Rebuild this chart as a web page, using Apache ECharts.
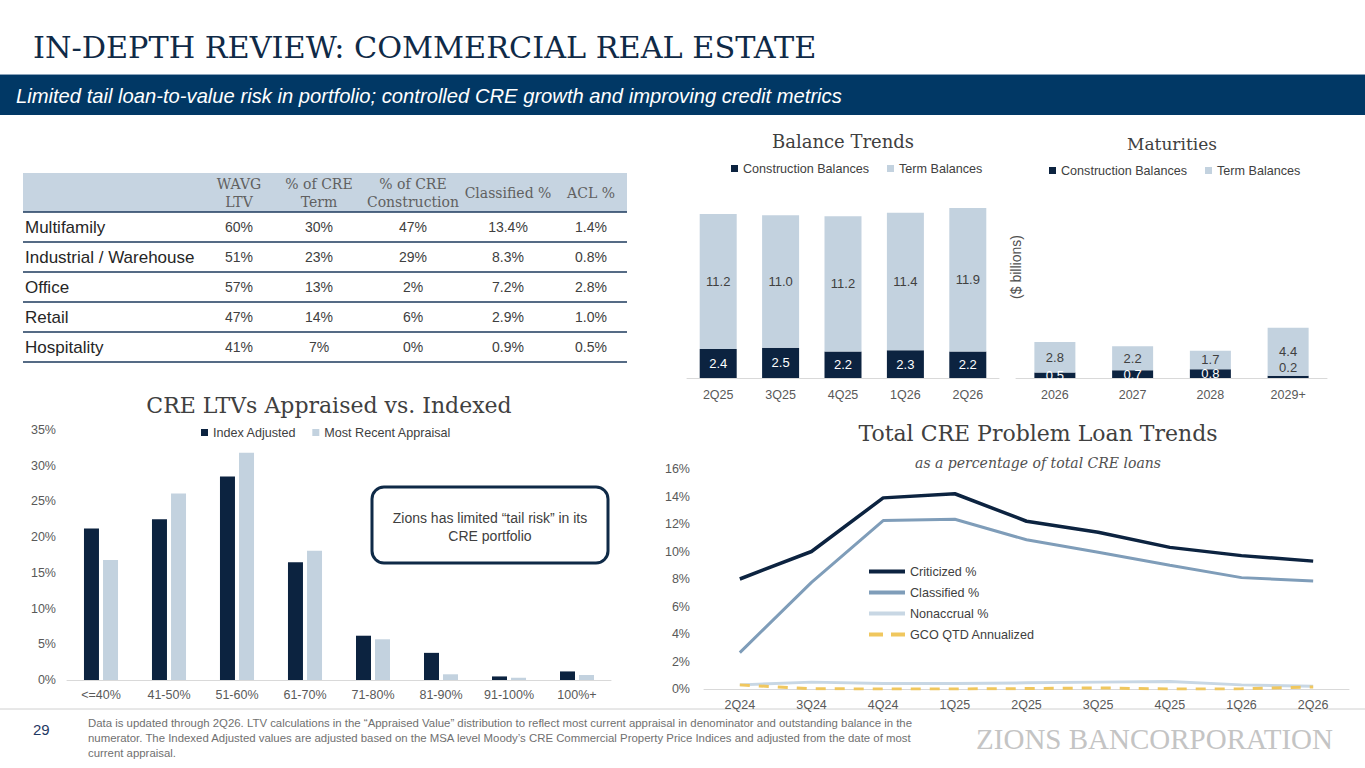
<!DOCTYPE html>
<html>
<head>
<meta charset="utf-8">
<script src="https://cdn.jsdelivr.net/npm/echarts@6/dist/echarts.min.js"></script>
<style>
html, body { margin: 0; padding: 0; background: #fff; }
#main { width: 1365px; height: 768px; }
</style>
</head>
<body>
<div id="main"></div>
<script>
var navy = '#0c2340';
var pale = '#c3d2df';

// table
var tableRows = ['Multifamily', 'Industrial / Warehouse', 'Office', 'Retail', 'Hospitality'];
var tableHeads = [['WAVG', 'LTV'], ['% of CRE', 'Term'], ['% of CRE', 'Construction'], ['Classified %'], ['ACL %']];
var wavgLtv = ['60%', '51%', '57%', '47%', '41%'];
var creTerm = ['30%', '23%', '13%', '14%', '7%'];
var creConstruction = ['47%', '29%', '2%', '6%', '0%'];
var classifiedPct = ['13.4%', '8.3%', '7.2%', '2.9%', '0.9%'];
var aclPct = ['1.4%', '0.8%', '2.8%', '1.0%', '0.5%'];

// balance trends ($ billions)
var balanceQuarters = ['2Q25', '3Q25', '4Q25', '1Q26', '2Q26'];
var balanceConstruction = [2.4, 2.5, 2.2, 2.3, 2.2];
var balanceTerm = [11.2, 11.0, 11.2, 11.4, 11.9];

// maturities ($ billions)
var maturityYears = ['2026', '2027', '2028', '2029+'];
var maturityConstruction = [0.5, 0.7, 0.8, 0.2];
var maturityTerm = [2.8, 2.2, 1.7, 4.4];

// CRE LTVs (%)
var ltvBuckets = ['<=40%', '41-50%', '51-60%', '61-70%', '71-80%', '81-90%', '91-100%', '100%+'];
var indexAdjusted = [21.2, 22.5, 28.5, 16.5, 6.2, 3.8, 0.5, 1.2];
var mostRecentAppraisal = [16.8, 26.1, 31.8, 18.1, 5.7, 0.8, 0.3, 0.7];

// problem loans (% of total CRE loans)
var problemQuarters = ['2Q24', '3Q24', '4Q24', '1Q25', '2Q25', '3Q25', '4Q25', '1Q26', '2Q26'];
var criticized = [8.0, 10.0, 13.9, 14.2, 12.2, 11.4, 10.3, 9.7, 9.3];
var classified = [2.65, 7.75, 12.25, 12.35, 10.85, 9.95, 9.0, 8.1, 7.85];
var nonaccrual = [0.3, 0.5, 0.4, 0.4, 0.45, 0.5, 0.55, 0.3, 0.2];
var gcoAnnualized = [0.3, 0.02, 0, 0, 0.03, 0.08, 0, 0.01, 0.15];

var footnote = [
    'Data is updated through 2Q26. LTV calculations in the \u201cAppraised Value\u201d distribution to reflect most current appraisal in denominator and outstanding balance in the',
    'numerator. The Indexed Adjusted values are adjusted based on the MSA level Moody\u2019s CRE Commercial Property Price Indices and adjusted from the date of most',
    'current appraisal.'
];

var sans = '"Liberation Sans", Arial, sans-serif';
var serif = '"DejaVu Serif", Georgia, serif';

function txt(text, x, y, font, fill, align, valign) {
    return {
        type: 'text',
        style: {
            text: text, x: x, y: y, font: font, fill: fill,
            textAlign: align || 'left', textVerticalAlign: valign || 'middle'
        }
    };
}

function hline(x1, x2, y, color, w) {
    return {
        type: 'line',
        shape: { x1: x1, y1: y, x2: x2, y2: y },
        style: { stroke: color, lineWidth: w }
    };
}

// page furniture
var graphics = [
    txt('IN-DEPTH REVIEW: COMMERCIAL REAL ESTATE', 33, 47, '30.3px ' + serif, '#0f2a47'),
    { type: 'rect', shape: { x: 0, y: 74, width: 1365, height: 1 }, style: { fill: '#8aa3bb' } },
    { type: 'rect', shape: { x: 0, y: 75, width: 1365, height: 40 }, style: { fill: '#013865' } },
    txt('Limited tail loan-to-value risk in portfolio; controlled CRE growth and improving credit metrics', 16, 96, 'italic 20.2px ' + sans, '#ffffff'),
    hline(0, 1365, 709, '#d0d0d0', 1),
    txt('29', 33, 729, '15px ' + sans, '#1f3864'),
    txt('ZIONS BANCORPORATION', 1333, 739, '29px "Liberation Serif", serif', '#c4c4c4', 'right')
];
footnote.forEach(function (line, i) {
    graphics.push(txt(line, 88, 723 + i * 15, '11.4px ' + sans, '#707070'));
});

// table
var colX = [239, 319, 413, 508, 591];
var rowY = [227, 257, 287, 317, 347];
var tableCols = [wavgLtv, creTerm, creConstruction, classifiedPct, aclPct];
graphics.push({ type: 'rect', shape: { x: 23, y: 173, width: 604, height: 39 }, style: { fill: '#c6d4e1' } });
tableHeads.forEach(function (h, c) {
    if (h.length == 2) {
        graphics.push(txt(h[0], colX[c], 184, '14px ' + serif, '#606060', 'center'));
        graphics.push(txt(h[1], colX[c], 202, '14px ' + serif, '#606060', 'center'));
    } else {
        graphics.push(txt(h[0], colX[c], 193, '14px ' + serif, '#606060', 'center'));
    }
});
graphics.push(hline(23, 627, 212, '#1d3a5c', 1.5));
tableRows.forEach(function (name, r) {
    graphics.push(txt(name, 25, rowY[r], '17px ' + sans, '#262626'));
    tableCols.forEach(function (col, c) {
        graphics.push(txt(col[r], colX[c], rowY[r], '14px ' + sans, '#404040', 'center'));
    });
    graphics.push(hline(23, 627, rowY[r] + 15, '#1d3a5c', 1.5));
});

// chart titles
graphics.push(txt('Balance Trends', 843, 141, '18px ' + serif, '#404040', 'center'));
graphics.push(txt('Maturities', 1172, 144, '17px ' + serif, '#404040', 'center'));
graphics.push(txt('CRE LTVs Appraised vs. Indexed', 329, 405, '22px ' + serif, '#404040', 'center'));
graphics.push(txt('Total CRE Problem Loan Trends', 1038, 433, '22px ' + serif, '#404040', 'center'));
graphics.push(txt('as a percentage of total CRE loans', 1038, 463, 'italic 14px ' + serif, '#505050', 'center'));
graphics.push({
    type: 'text', x: 1016, y: 267, rotation: Math.PI / 2,
    style: { text: '($ billions)', font: '14px ' + sans, fill: '#505050', textAlign: 'center', textVerticalAlign: 'middle' }
});

// callout box
graphics.push({
    type: 'rect', shape: { x: 372, y: 487, width: 236, height: 76, r: 12 },
    style: { fill: '#ffffff', stroke: '#0f2a47', lineWidth: 3 }
});
graphics.push(txt('Zions has limited \u201ctail risk\u201d in its', 490, 518, '14px ' + sans, '#404040', 'center'));
graphics.push(txt('CRE portfolio', 490, 536, '14px ' + sans, '#404040', 'center'));

var axisText = { color: '#595959', fontSize: 12.5, fontFamily: sans };
var legendText = { color: '#404040', fontSize: 12.6 };
var fmt1 = function (p) { return p.value.toFixed(1); };
var dashIcon = 'path://M0,0h14v4h-14zM22,0h14v4h-14z';

var myChart = echarts.init(document.getElementById('main'), null, { renderer: 'svg' });

var option = {
    animation: false,
    textStyle: { fontFamily: sans },
    graphic: { elements: graphics },
    legend: [
        {
            data: ['Construction Balances', 'Term Balances'],
            left: 726, top: 157, icon: 'rect', itemWidth: 7, itemHeight: 7, itemGap: 18,
            textStyle: legendText
        },
        {
            data: ['Construction Balances', 'Term Balances'],
            left: 1044, top: 159, icon: 'rect', itemWidth: 7, itemHeight: 7, itemGap: 18,
            textStyle: legendText
        },
        {
            data: ['Index Adjusted', 'Most Recent Appraisal'],
            left: 196, top: 421, icon: 'rect', itemWidth: 7, itemHeight: 7, itemGap: 16,
            textStyle: legendText
        },
        {
            data: [
                { name: 'Criticized %', icon: 'rect' },
                { name: 'Classified %', icon: 'rect' },
                { name: 'Nonaccrual %', icon: 'rect' },
                { name: 'GCO QTD Annualized', icon: dashIcon }
            ],
            orient: 'vertical', left: 864, top: 560, itemWidth: 36, itemHeight: 4, itemGap: 8,
            textStyle: legendText
        }
    ],
    grid: [
        { left: 687, top: 185, width: 312, height: 193 },
        { left: 1016, top: 203, width: 311, height: 175 },
        { left: 67, top: 430, width: 544, height: 250 },
        { left: 704, top: 469, width: 645, height: 220 }
    ],
    xAxis: [
        {
            gridIndex: 0, type: 'category', data: balanceQuarters,
            axisLine: { lineStyle: { color: '#d9d9d9' } }, axisTick: { show: false },
            axisLabel: Object.assign({ margin: 10 }, axisText)
        },
        {
            gridIndex: 1, type: 'category', data: maturityYears,
            axisLine: { lineStyle: { color: '#d9d9d9' } }, axisTick: { show: false },
            axisLabel: Object.assign({ margin: 10 }, axisText)
        },
        {
            gridIndex: 2, type: 'category', data: ltvBuckets,
            axisLine: { lineStyle: { color: '#d9d9d9' } }, axisTick: { show: false },
            axisLabel: Object.assign({ margin: 8, interval: 0 }, axisText)
        },
        {
            gridIndex: 3, type: 'category', data: problemQuarters,
            axisLine: { lineStyle: { color: '#d9d9d9' } }, axisTick: { show: false },
            axisLabel: Object.assign({ margin: 9, interval: 0 }, axisText)
        }
    ],
    yAxis: [
        { gridIndex: 0, type: 'value', min: 0, max: 16, show: false },
        { gridIndex: 1, type: 'value', min: 0, max: 16, show: false },
        {
            gridIndex: 2, type: 'value', min: 0, max: 35, interval: 5,
            axisLine: { show: false }, axisTick: { show: false }, splitLine: { show: false },
            axisLabel: Object.assign({ formatter: '{value}%', margin: 11 }, axisText)
        },
        {
            gridIndex: 3, type: 'value', min: 0, max: 16, interval: 2,
            axisLine: { show: false }, axisTick: { show: false }, splitLine: { show: false },
            axisLabel: Object.assign({ formatter: '{value}%', margin: 14 }, axisText)
        }
    ],
    series: [
        {
            name: 'Construction Balances', type: 'bar', xAxisIndex: 0, yAxisIndex: 0, stack: 'bal',
            data: balanceConstruction, barWidth: 37, itemStyle: { color: navy },
            label: { show: true, position: 'inside', color: '#ffffff', fontSize: 13, formatter: fmt1 }
        },
        {
            name: 'Term Balances', type: 'bar', xAxisIndex: 0, yAxisIndex: 0, stack: 'bal',
            data: balanceTerm, barWidth: 37, itemStyle: { color: pale },
            label: { show: true, position: 'inside', color: '#404040', fontSize: 13, formatter: fmt1 }
        },
        {
            name: 'Construction Balances', type: 'bar', xAxisIndex: 1, yAxisIndex: 1, stack: 'mat',
            data: maturityConstruction.map(function (v, i) {
                if (i == maturityConstruction.length - 1)
                    return { value: v, label: { position: 'top', color: '#404040', distance: 2 } };
                return v;
            }),
            barWidth: 41, itemStyle: { color: navy },
            label: { show: true, position: 'inside', color: '#ffffff', fontSize: 13, formatter: fmt1 }
        },
        {
            name: 'Term Balances', type: 'bar', xAxisIndex: 1, yAxisIndex: 1, stack: 'mat',
            data: maturityTerm, barWidth: 41, itemStyle: { color: pale },
            label: { show: true, position: 'inside', color: '#404040', fontSize: 13, formatter: fmt1 }
        },
        {
            name: 'Index Adjusted', type: 'bar', xAxisIndex: 2, yAxisIndex: 2,
            data: indexAdjusted, barWidth: 15, barGap: '27%', itemStyle: { color: navy }
        },
        {
            name: 'Most Recent Appraisal', type: 'bar', xAxisIndex: 2, yAxisIndex: 2,
            data: mostRecentAppraisal, barWidth: 15, barGap: '27%', itemStyle: { color: pale }
        },
        {
            name: 'Criticized %', type: 'line', xAxisIndex: 3, yAxisIndex: 3,
            data: criticized, symbol: 'none', lineStyle: { color: navy, width: 3.5 }, itemStyle: { color: navy }
        },
        {
            name: 'Classified %', type: 'line', xAxisIndex: 3, yAxisIndex: 3,
            data: classified, symbol: 'none', lineStyle: { color: '#7f9db9', width: 3 }, itemStyle: { color: '#7f9db9' }
        },
        {
            name: 'Nonaccrual %', type: 'line', xAxisIndex: 3, yAxisIndex: 3,
            data: nonaccrual, symbol: 'none', lineStyle: { color: '#c8d7e4', width: 3 }, itemStyle: { color: '#c8d7e4' }
        },
        {
            name: 'GCO QTD Annualized', type: 'line', xAxisIndex: 3, yAxisIndex: 3,
            data: gcoAnnualized, symbol: 'none', z: 3,
            lineStyle: { color: '#f0c75e', width: 3, type: [10, 9] }, itemStyle: { color: '#f0c75e' }
        }
    ]
};

myChart.setOption(option);
</script>
</body>
</html>
